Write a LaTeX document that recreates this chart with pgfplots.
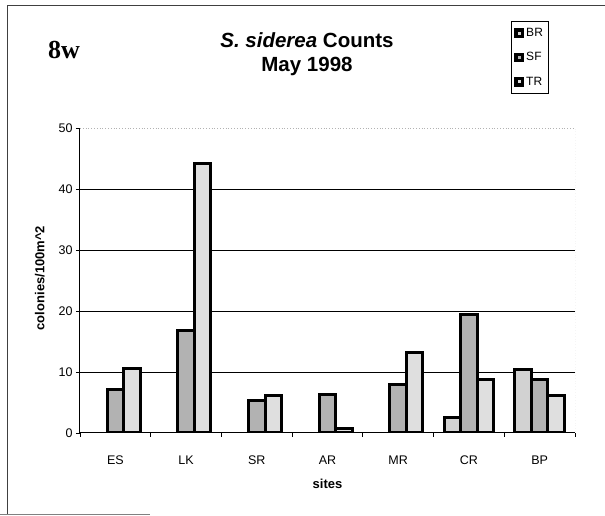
\documentclass[border=0pt]{standalone}
\usepackage{pgfplots}
\pgfplotsset{compat=1.18}
\usepackage{fontspec}
\setmainfont{Liberation Sans}
\newfontfamily\seriffont{Liberation Serif}
\begin{document}
\begin{tikzpicture}[x=1pt,y=1pt]
\useasboundingbox (0,0) rectangle (605,516);
\draw[black!75, line width=0.8pt] (7,2) -- (7,511) -- (605,511);
\draw[black!50, line width=0.8pt] (0,2) -- (150,2);
\node[font=\seriffont\bfseries\fontsize{26}{28}\selectfont] at (64,466) {8w};
\node[font=\bfseries\fontsize{20.5}{22}\selectfont] at (307,476) {\textit{S. siderea} Counts};
\node[font=\bfseries\fontsize{20.5}{22}\selectfont] at (307,450) {May 1998};
\begin{axis}[
  at={(80pt,83pt)}, anchor=south west,
  scale only axis, width=495pt, height=305pt,
  ybar=0pt, bar width=16.5pt,
  xmin=-0.5, xmax=6.5, ymin=0, ymax=50,
  axis x line*=bottom, axis y line*=left,
  axis line style={line width=1pt, -},
  xtick={-0.5,0.5,1.5,2.5,3.5,4.5,5.5,6.5}, xticklabels={},
  extra x ticks={0,1,2,3,4,5,6},
  extra x tick labels={ES,LK,SR,AR,MR,CR,BP},
  extra x tick style={major tick length=0pt, tick label style={yshift=-19pt}},
  ytick={0,10,20,30,40,50},
  extra y ticks={10,20,30,40}, extra y tick labels={},
  extra y tick style={grid=major, major tick length=0pt},
  grid style={black, line width=0.7pt},
  tick align=outside, major tick length=4pt,
  tick style={black, line width=0.9pt},
  tick label style={font=\fontsize{12.5}{14}\selectfont},
  /pgf/number format/assume math mode=true,
  ylabel={colonies/100m\textasciicircum 2},
  ylabel style={at={(axis description cs:-0.081,0.508)}, anchor=center, font=\fontsize{13}{15}\selectfont\bfseries},
  xlabel={sites},
  xlabel style={at={(axis description cs:0.5,-0.168)}, anchor=center, font=\fontsize{13}{15}\selectfont\bfseries},
  legend style={at={(axis description cs:0.8707,1.351)}, anchor=north west,
    draw=black, line width=0.7pt, font=\fontsize{12}{13}\selectfont,
    row sep=10.5pt, inner ysep=5pt, inner xsep=3pt,
    /tikz/every even column/.append style={column sep=2pt}},
  legend cell align=left,
  legend image code/.code={\draw[#1, draw=black, line width=3.4pt] (0.5pt,-3.2pt) rectangle (7pt,3.2pt);},
]
\addplot[fill=gray!35, draw=black, line width=3pt] coordinates {(5,2.5) (6,10.4)};
\addplot[fill=gray!60, draw=black, line width=3pt] coordinates {(0,7.2) (1,16.8) (2,5.3) (3,6.3) (4,8.0) (5,19.4) (6,8.7)};
\addplot[fill=gray!25, draw=black, line width=3pt] coordinates {(0,10.6) (1,44.2) (2,6.2) (3,0.7) (4,13.2) (5,8.8) (6,6.1)};
\legend{BR,SF,TR}
\draw[gray!60, dotted, line width=0.8pt] (rel axis cs:0,1) -- (rel axis cs:1,1) -- (rel axis cs:1,0);
\end{axis}
\end{tikzpicture}
\end{document}
